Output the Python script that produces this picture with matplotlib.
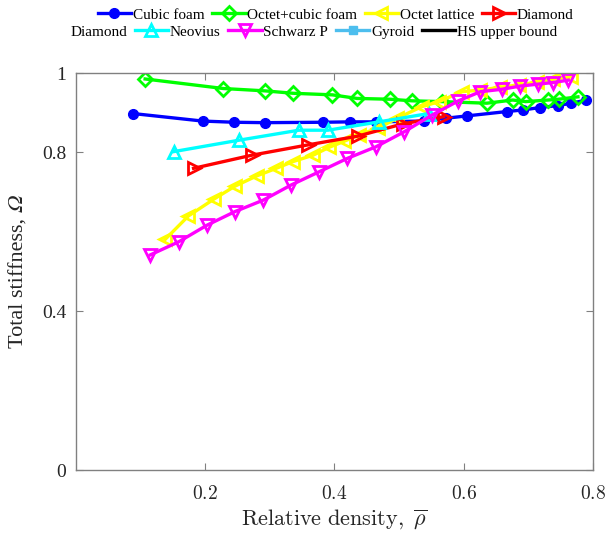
import matplotlib
matplotlib.use("Agg")
import matplotlib.pyplot as plt
from matplotlib.lines import Line2D

plt.rcParams['font.family'] = ['Liberation Serif', 'DejaVu Serif']
plt.rcParams['mathtext.fontset'] = 'stix'

# ---- data ----
cubic_x = [0.088, 0.196, 0.245, 0.292, 0.382, 0.424, 0.464, 0.538, 0.572, 0.605, 0.667, 0.692, 0.718, 0.746, 0.767, 0.790]
cubic_y = [0.898, 0.879, 0.876, 0.875, 0.876, 0.877, 0.877, 0.879, 0.886, 0.892, 0.903, 0.907, 0.913, 0.918, 0.924, 0.932]

octcub_x = [0.107, 0.228, 0.293, 0.336, 0.397, 0.435, 0.486, 0.520, 0.566, 0.636, 0.676, 0.696, 0.731, 0.747, 0.777]
octcub_y = [0.985, 0.961, 0.955, 0.949, 0.945, 0.936, 0.934, 0.930, 0.928, 0.924, 0.932, 0.928, 0.932, 0.934, 0.940]

octet_x = [0.138, 0.174, 0.213, 0.246, 0.280, 0.310, 0.336, 0.367, 0.392, 0.415, 0.438, 0.467, 0.497, 0.535,
           0.562, 0.597, 0.626, 0.656, 0.685, 0.713, 0.738, 0.767]
octet_y = [0.581, 0.640, 0.682, 0.715, 0.741, 0.760, 0.777, 0.793, 0.813, 0.828, 0.844, 0.861, 0.886, 0.915,
           0.928, 0.953, 0.957, 0.964, 0.970, 0.977, 0.984, 0.991]

diamond_x = [0.182, 0.272, 0.359, 0.436, 0.506, 0.569]
diamond_y = [0.760, 0.793, 0.819, 0.841, 0.872, 0.890]

neovius_x = [0.151, 0.253, 0.345, 0.390, 0.469, 0.546]
neovius_y = [0.802, 0.831, 0.856, 0.856, 0.877, 0.898]

schwarz_x = [0.115, 0.159, 0.203, 0.246, 0.290, 0.333, 0.376, 0.420, 0.464, 0.508, 0.551, 0.592, 0.626,
             0.659, 0.687, 0.715, 0.738, 0.762]
schwarz_y = [0.542, 0.575, 0.617, 0.651, 0.680, 0.718, 0.751, 0.785, 0.814, 0.852, 0.894, 0.930, 0.953,
             0.959, 0.967, 0.972, 0.976, 0.982]

gyroid_x, gyroid_y = [], []
hs_x, hs_y = [], []

legend_row1 = ['Cubic foam', 'Octet+cubic foam', 'Octet lattice', 'Diamond']
legend_row2 = ['Diamond', 'Neovius', 'Schwarz P', 'Gyroid', 'HS upper bound']

xticks = [0.2, 0.4, 0.6, 0.8]
xticklabels = ['0.2', '0.4', '0.6', '0.8']
yticks = [0, 0.4, 0.8, 1]
yticklabels = ['0', '0.4', '0.8', '1']

# ---- figure ----
fig = plt.figure(figsize=(6.08, 5.33), dpi=100)
ax = fig.add_axes([0.125, 0.118, 0.850, 0.745])

lw = 2.4
ms = 8
mew = 2.0
h_cubic, = ax.plot(cubic_x, cubic_y, '-o', color='#0000ff', lw=lw, ms=7, mfc='#0000ff', mec='#0000ff')
h_octcub, = ax.plot(octcub_x, octcub_y, '-D', color='#00ff00', lw=lw, ms=7, mfc='none', mew=mew)
h_octet, = ax.plot(octet_x, octet_y, '-<', color='#ffff00', lw=lw, ms=ms, mfc='none', mew=mew)
h_diam, = ax.plot(diamond_x, diamond_y, '->', color='#ff0000', lw=lw, ms=ms, mfc='none', mew=mew)
h_neo, = ax.plot(neovius_x, neovius_y, '-^', color='#00ffff', lw=lw, ms=ms, mfc='none', mew=mew)
h_sch, = ax.plot(schwarz_x, schwarz_y, '-v', color='#ff00ff', lw=lw, ms=ms, mfc='none', mew=mew)
h_gyr, = ax.plot(gyroid_x, gyroid_y, '-s', color='#4dbeee', lw=lw, ms=6, mfc='#4dbeee')
h_hs, = ax.plot(hs_x, hs_y, '-', color='black', lw=lw)
h_blank = Line2D([], [], color='none')

ax.set_xlim(0, 0.8)
ax.set_ylim(0, 1)
ax.set_xticks(xticks)
ax.set_xticklabels(['$' + t + '$' for t in xticklabels])
for t in ax.get_xticklabels():
    t.set_math_fontfamily('cm')
ax.set_yticks(yticks)
ax.set_yticklabels(yticklabels)
ax.tick_params(direction='in', top=True, right=True, length=5, color='#808080',
               labelsize=14, labelcolor='#262626')
ax.tick_params(axis='x', pad=11)
ax.tick_params(axis='y', pad=7)
for s in ax.spines.values():
    s.set_color('#808080')
    s.set_linewidth(1.0)

ax.set_xlabel(r'$\mathrm{Relative\ density,}\ \overline{\rho}$', fontsize=16, color='#262626',
              labelpad=3, math_fontfamily='cm')
ax.set_ylabel('Total stiffness, \U0001D6FA', fontsize=16, color='#262626', labelpad=10,
              family=['Liberation Serif', 'STIXGeneral', 'DejaVu Serif'])

leg_kw = dict(frameon=False, fontsize=11, handlelength=2.2, handletextpad=0.1,
              columnspacing=0.5, borderpad=0, borderaxespad=0)
fig.legend([h_cubic, h_octcub, h_octet, h_diam], legend_row1, ncol=4,
           loc='center', bbox_to_anchor=(0.552, 0.972), **leg_kw)
fig.legend([h_blank, h_neo, h_sch, h_gyr, h_hs], legend_row2, ncol=5,
           loc='center', bbox_to_anchor=(0.487, 0.940), **leg_kw)

fig.savefig('out.png', dpi=100)
